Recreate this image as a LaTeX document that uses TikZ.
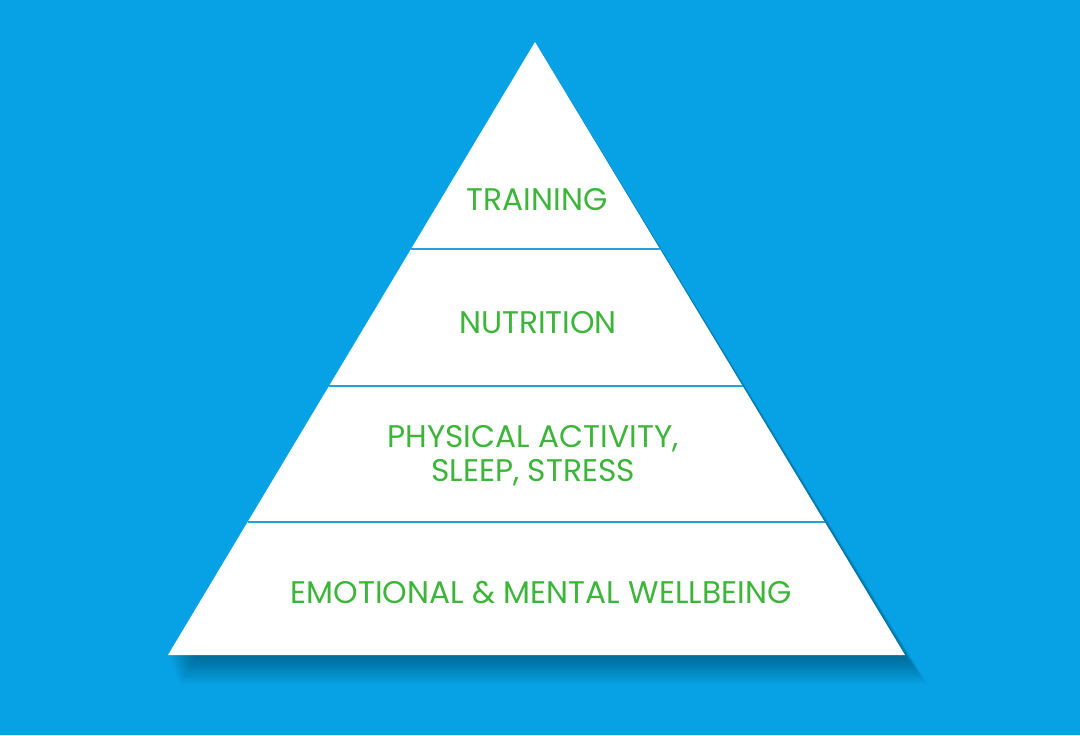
\documentclass[tikz,border=0pt]{standalone}
\usepackage{fontspec}
\setmainfont{Poppins}
\usetikzlibrary{calc, positioning}

\definecolor{skyblue}{HTML}{07A2E5}
\definecolor{linegreen}{HTML}{3DB53A}
\definecolor{layerline}{HTML}{2E9CD6}

\tikzset{
	layer/.style={text=linegreen, font=\fontsize{17.8}{19.3}\selectfont, align=center},
	divider/.style={draw=layerline, line width=1.6pt}
}

\begin{document}
\begin{tikzpicture}[x=0.02cm, y=-0.02cm]
	\fill[skyblue] (0,0) rectangle (1080,735);
	\useasboundingbox (0,0) rectangle (1080,735);

	\coordinate (apex) at (535,42);
	\coordinate (baseL) at (168,655);
	\coordinate (baseR) at (905,655);

	% soft shadow
	\foreach \d in {0,2,...,22}
		\fill[black, opacity=0.03, shift={(4,6)}] ($(apex)+(\d*0.3,\d*0.5)$) -- ($(baseR)+(\d*1.0,\d*1.3)$) -- ($(baseL)+(\d*0.5,\d*1.3)$) -- cycle;

	\fill[white] (apex) -- (baseR) -- (baseL) -- cycle;

	\draw[divider] ($(apex)!0.3377!(baseL)$) -- ($(apex)!0.3377!(baseR)$);
	\draw[divider] ($(apex)!0.5612!(baseL)$) -- ($(apex)!0.5612!(baseR)$);
	\draw[divider] ($(apex)!0.7830!(baseL)$) -- ($(apex)!0.7830!(baseR)$);

	\node[layer] (training) at (537,200) {TRAINING};
	\node[layer] (nutrition) at (538,323) {NUTRITION};
	\node[layer] (activity) at (533,456) {PHYSICAL ACTIVITY,\\SLEEP, STRESS};
	\node[layer] (wellbeing) at (541,593) {EMOTIONAL \& MENTAL WELLBEING};
\end{tikzpicture}
\end{document}
